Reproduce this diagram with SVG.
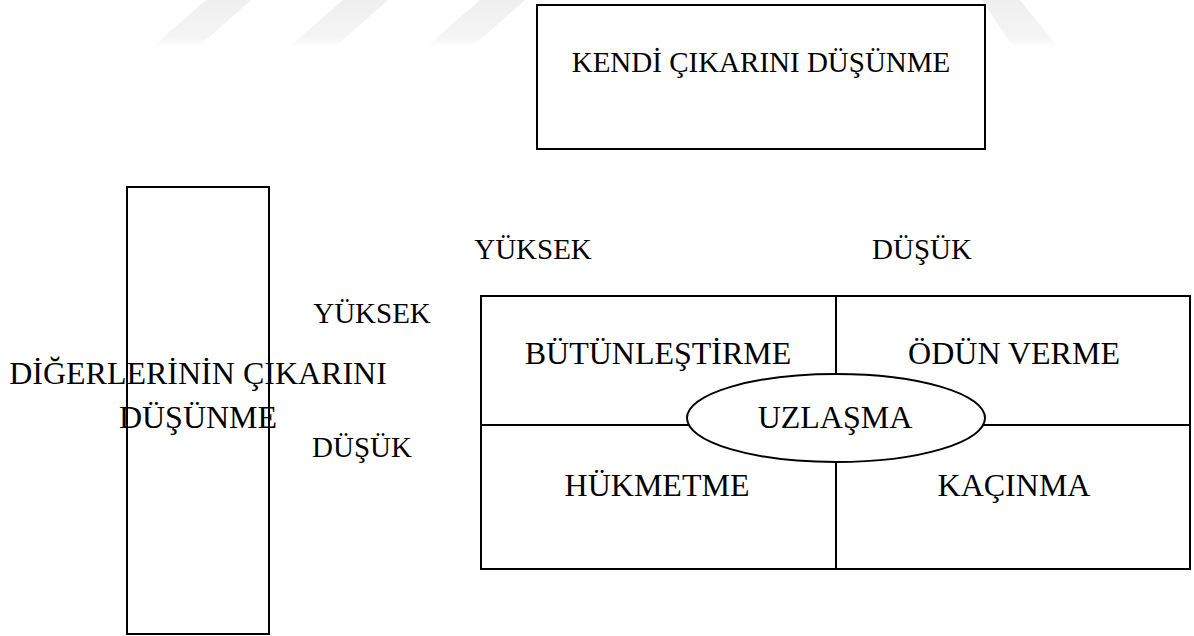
<svg xmlns="http://www.w3.org/2000/svg" width="1194" height="636" viewBox="0 0 1194 636">
<defs>
<linearGradient id="wm" x1="0" y1="0" x2="0" y2="1">
<stop offset="0" stop-color="#efefef"/>
<stop offset="0.8" stop-color="#f5f5f5"/>
<stop offset="1" stop-color="#ffffff"/>
</linearGradient>
</defs>
<style>
.box{fill:none;stroke:#000;stroke-width:2}
.t{font-family:"Liberation Serif","Times New Roman",serif;font-size:32px;fill:#000;text-anchor:middle}
.s{font-size:29px}
.wm{fill:url(#wm)}
</style>
<rect width="1194" height="636" fill="#fff"/>
<g id="watermark">
<polygon class="wm" points="206,0 251,0 198,47 152,47"/>
<polygon class="wm" points="343,0 388,0 335,47 289,47"/>
<polygon class="wm" points="480,0 525,0 472,47 426,47"/>
<polygon class="wm" points="982,0 1020,0 1058,47 1013,47"/>
</g>
<g id="kendi"><rect class="box" x="537" y="5" width="448" height="144" fill="#fff"/><text class="t s" x="761" y="72">KENDİ ÇIKARINI DÜŞÜNME</text></g>
<g id="digerleri"><rect class="box" x="127" y="187" width="142" height="447"/><text class="t" x="198" y="384">DİĞERLERİNİN ÇIKARINI</text><text class="t" x="198" y="428">DÜŞÜNME</text></g>
<g id="labels">
<text class="t s" x="372" y="323">YÜKSEK</text>
<text class="t s" x="362" y="457">DÜŞÜK</text>
<text class="t s" x="533" y="259">YÜKSEK</text>
<text class="t s" x="922" y="259">DÜŞÜK</text>
</g>
<g id="grid">
<rect class="box" x="481" y="296" width="709" height="273"/>
<line class="box" x1="836" y1="296" x2="836" y2="569"/>
<line class="box" x1="481" y1="425" x2="1190" y2="425"/>
</g>
<g id="cells">
<text class="t" x="658" y="364">BÜTÜNLEŞTİRME</text>
<text class="t" x="1014" y="364">ÖDÜN VERME</text>
<text class="t" x="657" y="496">HÜKMETME</text>
<text class="t" x="1014" y="496">KAÇINMA</text>
</g>
<g id="uzlasma"><ellipse cx="836" cy="418" rx="149" ry="44" fill="#fff" stroke="#000" stroke-width="2"/><text class="t" x="835" y="428">UZLAŞMA</text></g>
</svg>
